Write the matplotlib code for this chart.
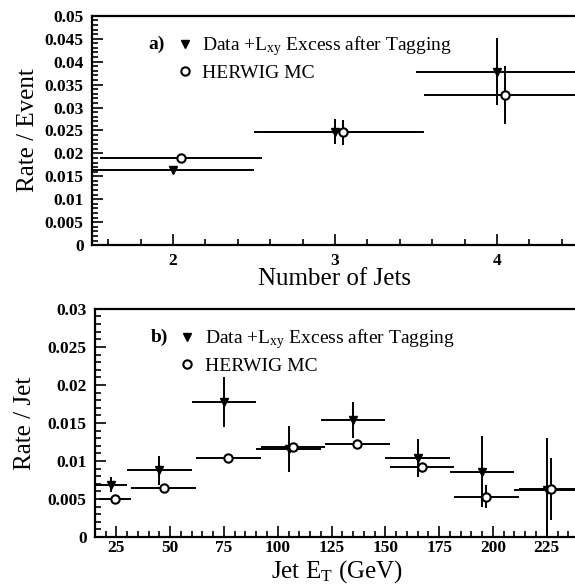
import matplotlib
matplotlib.use("Agg")
import matplotlib.pyplot as plt
from matplotlib.lines import Line2D
from matplotlib.ticker import MultipleLocator

plt.rcParams["font.family"] = ["Liberation Serif", "DejaVu Serif"]
plt.rcParams["mathtext.fontset"] = "custom"
plt.rcParams["mathtext.rm"] = "Liberation Serif"
plt.rcParams["mathtext.it"] = "Liberation Serif"

# a) tag rate per event vs jet multiplicity
njets = [2, 3, 4]
njets_halfwidth = 0.5
njets_mc_shift = 0.05
data_rate_evt = [0.0163, 0.0247, 0.0378]
data_err_evt = [0.0007, 0.0027, 0.0073]
mc_rate_evt = [0.0190, 0.0246, 0.0327]
mc_err_evt = [0.0003, 0.0027, 0.0064]

# b) tag rate per jet vs jet ET
et_centers = [22.5, 45, 75, 105, 135, 165, 195, 225]
et_halfwidth = [7.5, 15, 15, 15, 15, 15, 15, 15]
et_mc_shift = 2.0
data_rate_jet = [0.0069, 0.0088, 0.0178, 0.0116, 0.0154, 0.0104, 0.0086, 0.0062]
data_err_jet = [0.0010, 0.0019, 0.0033, 0.0030, 0.0024, 0.0025, 0.0047, 0.0068]
mc_rate_jet = [0.0050, 0.0065, 0.0104, 0.0118, 0.0122, 0.0092, 0.0053, 0.0063]
mc_err_jet = [0.0002, 0.0002, 0.0002, 0.0004, 0.0005, 0.0006, 0.0015, 0.0041]

data_label = r"Data +L$_{\mathrm{xy}}$ Excess after Tagging"
mc_label = "HERWIG MC"

data_style = dict(fmt="v", color="black", ms=5.5, lw=1.4, capsize=0)
mc_style = dict(fmt="o", color="black", mfc="white", mec="black", ms=6,
                mew=1.5, lw=1.4, capsize=0)


def style_axes(ax, xpad):
    for side in ("top", "bottom", "left"):
        ax.spines[side].set_linewidth(1.6)
    ax.spines["right"].set_visible(False)
    ax.tick_params(which="both", direction="in", top=False, right=False,
                   width=1.2, labelsize=12.5)
    ax.tick_params(which="major", length=8)
    ax.tick_params(which="minor", length=4)
    ax.tick_params(axis="y", pad=6)
    ax.tick_params(axis="x", pad=xpad)
    for lbl in ax.get_xticklabels() + ax.get_yticklabels():
        lbl.set_fontweight("bold")


def add_key(ax, tag, y_tag):
    ax.text(0.115, y_tag, tag, transform=ax.transAxes, fontsize=14,
            fontweight="bold", va="center")
    handles = [
        Line2D([], [], ls="none", marker="v", color="black", ms=5.5),
        Line2D([], [], ls="none", marker="o", color="black", mfc="white",
               ms=6, mew=1.5),
    ]
    ax.legend(handles, [data_label, mc_label], loc="upper left",
              bbox_to_anchor=(0.175, y_tag + 0.045), frameon=False,
              fontsize=14, handlelength=0.8, handletextpad=0.5,
              labelspacing=0.32, borderpad=0, borderaxespad=0)


fig = plt.figure(figsize=(5.75, 5.85), dpi=100)

ax1 = fig.add_axes([0.160, 0.581, 0.845, 0.392])
ax1.errorbar(njets, data_rate_evt, yerr=data_err_evt, xerr=njets_halfwidth,
             **data_style)
ax1.errorbar([n + njets_mc_shift for n in njets], mc_rate_evt, yerr=mc_err_evt,
             xerr=njets_halfwidth, **mc_style)
ax1.set_xlim(1.5, 4.5)
ax1.set_ylim(0, 0.05)
ax1.set_xticks(njets)
ax1.xaxis.set_minor_locator(MultipleLocator(0.2))
ax1.set_yticks([i * 0.005 for i in range(11)])
ax1.set_yticklabels(["0", "0.005", "0.01", "0.015", "0.02", "0.025", "0.03",
                     "0.035", "0.04", "0.045", "0.05"])
ax1.yaxis.set_minor_locator(MultipleLocator(0.001))
ax1.set_xlabel("Number of Jets", fontsize=18, labelpad=-1)
ax1.set_ylabel("Rate / Event", fontsize=18, labelpad=4)
style_axes(ax1, xpad=6)
add_key(ax1, "a)", 0.875)

ax2 = fig.add_axes([0.165, 0.082, 0.842, 0.390])
ax2.errorbar(et_centers, data_rate_jet, yerr=data_err_jet, xerr=et_halfwidth,
             **data_style)
ax2.errorbar([e + et_mc_shift for e in et_centers], mc_rate_jet, yerr=mc_err_jet,
             xerr=et_halfwidth, **mc_style)
ax2.set_xlim(15, 240)
ax2.set_ylim(0, 0.03)
ax2.set_xticks([25, 50, 75, 100, 125, 150, 175, 200, 225])
ax2.xaxis.set_minor_locator(MultipleLocator(5))
ax2.set_yticks([0, 0.005, 0.01, 0.015, 0.02, 0.025, 0.03])
ax2.set_yticklabels(["0", "0.005", "0.01", "0.015", "0.02", "0.025", "0.03"])
ax2.yaxis.set_minor_locator(MultipleLocator(0.001))
ax2.set_xlabel(r"Jet E$_{\mathrm{T}}$ (GeV)", fontsize=18)
ax2.xaxis.set_label_coords(0.5, -0.092)
ax2.set_ylabel("Rate / Jet", fontsize=18, labelpad=8)
style_axes(ax2, xpad=2)
add_key(ax2, "b)", 0.875)

fig.savefig("out.png", dpi=100)
